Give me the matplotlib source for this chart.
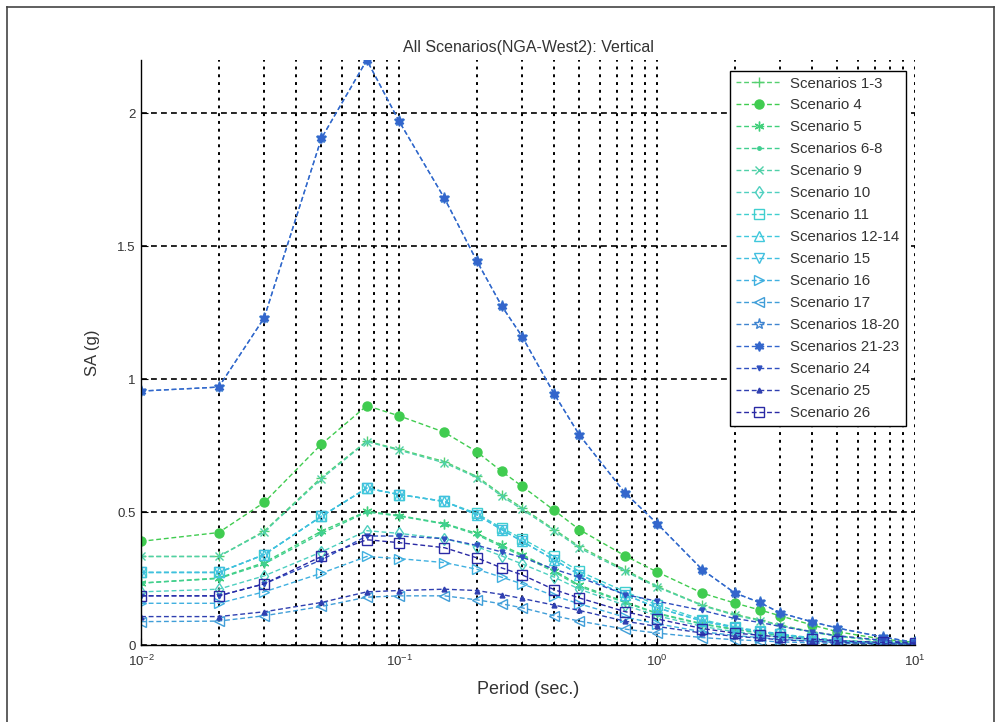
import matplotlib
matplotlib.use("Agg")
import matplotlib.pyplot as plt
from matplotlib.lines import Line2D
import numpy as np

plt.rcParams['font.family'] = ['Liberation Sans', 'DejaVu Sans']

periods = [0.01, 0.02, 0.03, 0.05, 0.075, 0.1, 0.15, 0.2, 0.25, 0.3, 0.4, 0.5,
           0.75, 1.0, 1.5, 2.0, 2.5, 3.0, 4.0, 5.0, 7.5, 10.0]

labels = ['Scenarios 1-3', 'Scenario 4', 'Scenario 5', 'Scenarios 6-8', 'Scenario 9',
          'Scenario 10', 'Scenario 11', 'Scenarios 12-14', 'Scenario 15', 'Scenario 16',
          'Scenario 17', 'Scenarios 18-20', 'Scenarios 21-23', 'Scenario 24',
          'Scenario 25', 'Scenario 26']

sa_1_3 = [0.333, 0.333, 0.428, 0.63, 0.767, 0.736, 0.69, 0.634, 0.566, 0.516, 0.434, 0.371,
          0.283, 0.221, 0.15, 0.115, 0.095, 0.075, 0.05, 0.035, 0.015, 0.007]
sa_4 = [0.39, 0.423, 0.536, 0.755, 0.90, 0.862, 0.80, 0.727, 0.653, 0.597, 0.506, 0.434,
        0.336, 0.275, 0.195, 0.158, 0.132, 0.11, 0.075, 0.05, 0.022, 0.01]
sa_5 = [0.233, 0.252, 0.31, 0.428, 0.503, 0.487, 0.457, 0.42, 0.375, 0.34, 0.28, 0.225,
        0.163, 0.12, 0.08, 0.06, 0.048, 0.038, 0.026, 0.018, 0.009, 0.005]
sa_6_8 = [0.233, 0.25, 0.305, 0.42, 0.50, 0.485, 0.455, 0.415, 0.37, 0.335, 0.275, 0.22,
          0.16, 0.118, 0.078, 0.058, 0.046, 0.036, 0.025, 0.017, 0.008, 0.004]
sa_9 = [0.333, 0.333, 0.425, 0.625, 0.765, 0.733, 0.685, 0.63, 0.56, 0.51, 0.43, 0.365,
        0.278, 0.218, 0.148, 0.112, 0.092, 0.073, 0.048, 0.033, 0.014, 0.006]
sa_10 = [0.2, 0.21, 0.26, 0.35, 0.43, 0.42, 0.40, 0.37, 0.335, 0.305, 0.255, 0.21,
         0.15, 0.11, 0.07, 0.05, 0.04, 0.03, 0.02, 0.015, 0.008, 0.004]
sa_11 = [0.273, 0.273, 0.34, 0.484, 0.59, 0.566, 0.54, 0.495, 0.44, 0.40, 0.333, 0.277,
         0.201, 0.151, 0.095, 0.068, 0.053, 0.042, 0.027, 0.017, 0.008, 0.004]
sa_12_14 = [0.273, 0.273, 0.34, 0.484, 0.59, 0.566, 0.54, 0.49, 0.434, 0.39, 0.32, 0.265,
            0.19, 0.14, 0.09, 0.065, 0.05, 0.04, 0.025, 0.015, 0.007, 0.004]
sa_15 = [0.273, 0.273, 0.34, 0.484, 0.59, 0.566, 0.54, 0.49, 0.434, 0.39, 0.32, 0.265,
         0.19, 0.14, 0.09, 0.065, 0.05, 0.04, 0.025, 0.015, 0.007, 0.004]
sa_16 = [0.157, 0.157, 0.2, 0.27, 0.333, 0.325, 0.31, 0.285, 0.255, 0.23, 0.185, 0.155,
         0.105, 0.08, 0.05, 0.036, 0.028, 0.022, 0.015, 0.01, 0.006, 0.003]
sa_17 = [0.088, 0.09, 0.11, 0.145, 0.18, 0.185, 0.185, 0.17, 0.155, 0.14, 0.11, 0.09,
         0.06, 0.045, 0.028, 0.02, 0.016, 0.012, 0.008, 0.006, 0.003, 0.002]
sa_18_20 = [0.955, 0.97, 1.23, 1.905, 2.20, 1.97, 1.68, 1.445, 1.275, 1.16, 0.943, 0.79,
            0.573, 0.457, 0.283, 0.196, 0.16, 0.121, 0.087, 0.064, 0.03, 0.01]
sa_21_23 = [0.955, 0.97, 1.23, 1.905, 2.20, 1.97, 1.68, 1.445, 1.275, 1.16, 0.943, 0.79,
            0.573, 0.457, 0.283, 0.196, 0.16, 0.121, 0.087, 0.064, 0.03, 0.01]
sa_24 = [0.185, 0.185, 0.23, 0.32, 0.41, 0.41, 0.40, 0.375, 0.35, 0.33, 0.285, 0.255,
         0.19, 0.165, 0.13, 0.10, 0.085, 0.07, 0.05, 0.035, 0.018, 0.008]
sa_25 = [0.107, 0.107, 0.125, 0.16, 0.20, 0.205, 0.21, 0.205, 0.19, 0.175, 0.15, 0.13,
         0.09, 0.07, 0.045, 0.033, 0.026, 0.02, 0.014, 0.01, 0.005, 0.003]
sa_26 = [0.185, 0.185, 0.23, 0.333, 0.396, 0.385, 0.366, 0.328, 0.29, 0.264, 0.208, 0.177,
         0.126, 0.098, 0.062, 0.045, 0.037, 0.03, 0.022, 0.016, 0.01, 0.007]

series = [sa_1_3, sa_4, sa_5, sa_6_8, sa_9, sa_10, sa_11, sa_12_14, sa_15, sa_16,
          sa_17, sa_18_20, sa_21_23, sa_24, sa_25, sa_26]

colors = ['#55d070', '#40cc50', '#40d07a', '#40cf90', '#4fd0a8', '#4fd0c0', '#40cfcf',
          '#40c8dc', '#40bfe0', '#40b0e0', '#409ed8', '#4085d0', '#3366cc', '#2f4fc0',
          '#2f3fb0', '#2a2aa5']
markers = ['+', 'o', (6, 2, 0), '.', 'x', 'd', 's', '^', 'v', '>', '<', '*', (6, 1, 0),
           'v', '^', 's']
msizes = [7, 6.5, 7, 5, 6, 6, 7, 7, 7, 7, 7, 8, 7, 3.5, 3.5, 7]
filled = [False, True, False, True, False, False, False, False, False, False, False,
          False, True, True, True, False]

fig = plt.figure(figsize=(10.01, 7.22), dpi=100)
ax = fig.add_axes([0.1409, 0.1066, 0.7732, 0.8103])

for vals, lab, c, m, ms, f in zip(series, labels, colors, markers, msizes, filled):
    ax.plot(periods, vals, linestyle=(0, (3.5, 2)), linewidth=1.0, color=c, marker=m,
            markersize=ms, markerfacecolor=(c if f else 'none'), markeredgecolor=c,
            markeredgewidth=1.0, label=lab)

ax.set_xscale('log')
ax.set_xlim(0.01, 10)
ax.set_ylim(0, 2.2)
ax.set_yticks([0, 0.5, 1, 1.5, 2])
ax.set_yticklabels(['0', '0.5', '1', '1.5', '2'])

ax.xaxis.grid(True, which='both', color='black', linestyle=(0, (1.5, 2.5)), linewidth=1.4)
ax.yaxis.grid(True, which='major', color='black', linestyle=(0, (3.5, 2.5)), linewidth=1.2)
ax.set_axisbelow(True)

for s in ['top', 'right']:
    ax.spines[s].set_visible(False)
for s in ['left', 'bottom']:
    ax.spines[s].set_color('black')
    ax.spines[s].set_linewidth(1.0)

ax.tick_params(axis='both', which='both', direction='in', labelsize=9.5,
               labelcolor='#333333')
ax.tick_params(axis='x', which='major', length=5, pad=6)
ax.tick_params(axis='x', which='minor', length=3)
ax.tick_params(axis='y', length=5, pad=4)

ax.set_title('All Scenarios(NGA-West2): Vertical', fontsize=11.5, color='#333333', pad=6)
ax.set_xlabel('Period (sec.)', fontsize=13, color='#333333', labelpad=9)
ax.set_ylabel('SA (g)', fontsize=12, color='#333333', labelpad=12)

leg = ax.legend(loc='upper right', bbox_to_anchor=(0.988, 0.982), fontsize=10.8,
                frameon=True, fancybox=False, edgecolor='black', framealpha=1,
                handlelength=3.0, labelspacing=0.53, borderpad=0.4, handletextpad=0.6,
                borderaxespad=0)
leg.get_frame().set_linewidth(1.0)
for t in leg.get_texts():
    t.set_color('#333333')

# outer frame of the exported picture
for xs, ys in [([0.007, 0.007], [0.0, 0.990]), ([0.007, 0.993], [0.990, 0.990]),
               ([0.993, 0.993], [0.990, 0.0])]:
    fig.add_artist(Line2D(xs, ys, transform=fig.transFigure, color='#444444', linewidth=1.2))

fig.savefig('out.png', dpi=100)
